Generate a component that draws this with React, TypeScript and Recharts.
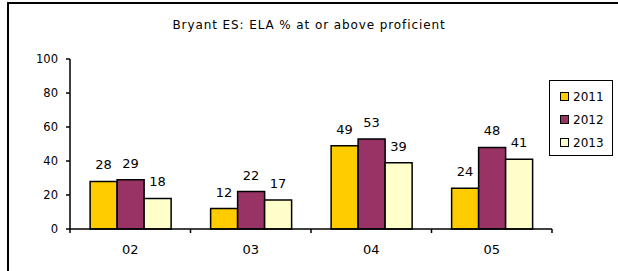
import { BarChart, Bar, XAxis, YAxis, Legend, LabelList } from "recharts";

const grades = ["02", "03", "04", "05"];
const values2011 = [28, 12, 49, 24];
const values2012 = [29, 22, 53, 48];
const values2013 = [18, 17, 39, 41];
const yTicks = [0, 20, 40, 60, 80, 100];

const seriesList = [
  { key: "y2011", name: "2011", color: "#FFCC00" },
  { key: "y2012", name: "2012", color: "#993366" },
  { key: "y2013", name: "2013", color: "#FFFFCC" },
];

const data = grades.map((grade, i) => ({
  grade,
  y2011: values2011[i],
  y2012: values2012[i],
  y2013: values2013[i],
}));

const FONT = "'DejaVu Sans', Arial, sans-serif";

// category label in the middle, tick marks on the band edges
// eslint-disable-next-line @typescript-eslint/no-explicit-any
function GradeTick({ x, y, payload, index }: any) {
  const half = payload?.offset ?? 60;
  const last = index === grades.length - 1;
  return (
    <g>
      <line x1={x - half} x2={x - half} y1={y} y2={y + 4} stroke="#000" strokeWidth={1.5} />
      {last && <line x1={x + half} x2={x + half} y1={y} y2={y + 4} stroke="#000" strokeWidth={1.5} />}
      <text x={x} y={y + 16} dy="0.71em" textAnchor="middle" fontFamily={FONT} fontSize={13} fill="#000">
        {payload.value}
      </text>
    </g>
  );
}

function LegendBox() {
  return (
    <div
      style={{
        width: 64,
        height: 76,
        boxSizing: "border-box",
        border: "1.5px solid #000",
        background: "#fff",
        paddingTop: 4,
        fontFamily: FONT,
        fontSize: 12,
      }}
    >
      {seriesList.map((s) => (
        <div key={s.key} style={{ display: "flex", alignItems: "center", height: 23, paddingLeft: 10 }}>
          <span
            style={{
              width: 7,
              height: 7,
              background: s.color,
              border: "1px solid #000",
              marginRight: 4,
            }}
          />
          <span>{s.name}</span>
        </div>
      ))}
    </div>
  );
}

export default function App() {
  return (
    <div style={{ position: "absolute", left: 0, top: 0, width: 618, height: 271, overflow: "hidden", background: "#fff" }}>
      <div
        style={{
          position: "absolute",
          left: 7,
          top: 2,
          width: 640,
          height: 300,
          border: "2px solid #000",
        }}
      />
      <div
        style={{
          position: "absolute",
          left: 0,
          top: 18,
          width: 618,
          textAlign: "center",
          fontFamily: FONT,
          fontSize: 12,
          letterSpacing: 0.9,
          color: "#000",
        }}
      >
        Bryant ES: ELA % at or above proficient
      </div>
      <div style={{ position: "absolute", left: 0, top: 0 }}>
        <BarChart
          width={618}
          height={271}
          data={data}
          margin={{ top: 59, right: 66, left: 0, bottom: 0 }}
          barCategoryGap="16.7%"
          barGap={0}
        >
          <XAxis
            dataKey="grade"
            height={42}
            axisLine={{ stroke: "#000", strokeWidth: 1.5 }}
            tickLine={false}
            tickSize={0}
            tickMargin={0}
            tick={<GradeTick />}
            interval={0}
          />
          <YAxis
            width={70}
            domain={[0, 100]}
            ticks={yTicks}
            interval={0}
            axisLine={{ stroke: "#000", strokeWidth: 1.5 }}
            tickLine={{ stroke: "#000", strokeWidth: 1.5 }}
            tickSize={4}
            tickMargin={8}
            tick={{ fill: "#000", fontSize: 11.5, fontFamily: FONT }}
          />
          <Legend
            layout="vertical"
            align="center"
            verticalAlign="middle"
            content={<LegendBox />}
            wrapperStyle={{ left: 549, top: 80, width: 64, height: 76 }}
          />
          {seriesList.map((s) => (
            <Bar
              key={s.key}
              dataKey={s.key}
              name={s.name}
              fill={s.color}
              stroke="#000"
              strokeWidth={1.5}
              isAnimationActive={false}
            >
              <LabelList
                dataKey={s.key}
                position="top"
                offset={12}
                fill="#000"
                fontSize={13}
                fontFamily={FONT}
              />
            </Bar>
          ))}
        </BarChart>
      </div>
    </div>
  );
}
